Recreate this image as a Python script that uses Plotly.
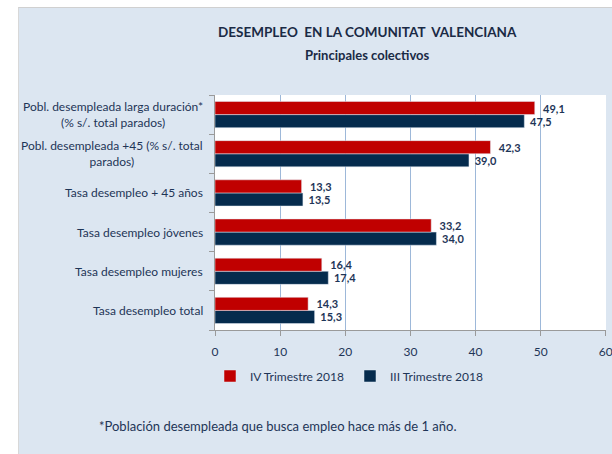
import plotly.graph_objects as go

categories = [
    "Tasa desempleo total",
    "Tasa desempleo mujeres",
    "Tasa desempleo jóvenes",
    "Tasa desempleo + 45 años",
    "Pobl. desempleada +45 (% s/. total<br>parados)",
    "Pobl. desempleada larga duración*<br>(% s/. total parados)",
]
iv_2018 = [14.3, 16.4, 33.2, 13.3, 42.3, 49.1]
iii_2018 = [15.3, 17.4, 34.0, 13.5, 39.0, 47.5]
x_ticks = [0, 10, 20, 30, 40, 50, 60]

RED = "#c00000"
NAVY = "#052b4d"
TXT = "#1e3557"
FONT = "Lato"

W, H = 612, 454
L, R, T, B = 215, 6, 95, 124
pw, ph = W - L - R, H - T - B


def px2x(px):
    return (px - L) / pw


def py2y(py):
    return (H - B - py) / ph


def fmt(v):
    return f"{v:.1f}".replace(".", ",")


fig = go.Figure()
fig.add_trace(go.Bar(
    y=categories, x=iii_2018, orientation="h", name="III Trimestre 2018",
    marker=dict(color=NAVY), text=[" " + fmt(v) for v in iii_2018],
    textposition="outside", cliponaxis=False,
    textfont=dict(family=FONT, size=11, color=TXT, weight="bold"),
    legendrank=2,
))
fig.add_trace(go.Bar(
    y=categories, x=iv_2018, orientation="h", name="IV Trimestre 2018",
    marker=dict(color=RED), text=["  " + fmt(v) for v in iv_2018],
    textposition="outside", cliponaxis=False,
    textfont=dict(family=FONT, size=11, color=TXT, weight="bold"),
    legendrank=1,
))

annotations = [
    dict(text="<b>DESEMPLEO  EN LA COMUNITAT  VALENCIANA</b>", x=px2x(367), y=py2y(32),
         xref="paper", yref="paper", showarrow=False, xanchor="center", yanchor="middle",
         font=dict(family=FONT, size=13.5, color="#1a2a45")),
    dict(text="<b>Principales colectivos</b>", x=px2x(367), y=py2y(55),
         xref="paper", yref="paper", showarrow=False, xanchor="center", yanchor="middle",
         font=dict(family=FONT, size=13, color="#1a2a45")),
    dict(text="*Población desempleada que busca empleo hace más de 1 año.", x=px2x(97), y=py2y(426),
         xref="paper", yref="paper", showarrow=False, xanchor="left", yanchor="middle",
         font=dict(family=FONT, size=13, color=TXT)),
]
for c in categories:
    annotations.append(dict(
        text=c, x=px2x(205), y=c, xref="paper", yref="y", showarrow=False,
        xanchor="right", yanchor="middle", align="center",
        font=dict(family=FONT, size=12, color=TXT),
    ))

shapes = [
    dict(type="rect", xref="paper", yref="paper", x0=px2x(-5), x1=px2x(18), y0=py2y(460), y1=py2y(-5),
         fillcolor="white", line=dict(width=0), layer="below"),
    dict(type="rect", xref="paper", yref="paper", x0=px2x(-5), x1=px2x(620), y0=py2y(7), y1=py2y(-5),
         fillcolor="white", line=dict(width=0), layer="below"),
    dict(type="line", xref="paper", yref="paper", x0=px2x(18), x1=px2x(620), y0=py2y(7.5), y1=py2y(7.5),
         line=dict(color="#d0d0d0", width=1), layer="below"),
    dict(type="line", xref="paper", yref="paper", x0=px2x(18.5), x1=px2x(18.5), y0=py2y(460), y1=py2y(7.5),
         line=dict(color="#d8d8d8", width=1), layer="below"),
]

fig.update_layout(
    width=W, height=H, autosize=False,
    margin=dict(l=L, r=R, t=T, b=B, pad=0, autoexpand=False),
    paper_bgcolor="#dce6f1", plot_bgcolor="white",
    barmode="group", bargap=0.33, bargroupgap=0,
    showlegend=True,
    legend=dict(orientation="h", x=px2x(210), xanchor="left", y=py2y(376), yanchor="middle",
                font=dict(family=FONT, size=12, color=TXT), bgcolor="rgba(0,0,0,0)",
                traceorder="normal", itemwidth=30, entrywidth=95),
    annotations=annotations, shapes=shapes,
    font=dict(family=FONT, color=TXT),
)
fig.update_xaxes(
    range=[0, 60.04], tickvals=x_ticks, showgrid=True, gridcolor="#9db8d9", gridwidth=1,
    showline=True, linecolor="#9a9a9a", linewidth=1, ticks="outside", ticklen=5,
    tickcolor="#9a9a9a", tickfont=dict(family=FONT, size=12, color=TXT),
    ticklabelstandoff=6, ticklabeloverflow="allow", zeroline=False, fixedrange=True,
    automargin=False,
)
fig.update_yaxes(
    categoryorder="array", categoryarray=categories, showticklabels=False,
    showline=True, linecolor="#9a9a9a", linewidth=1, ticks="outside", ticklen=5,
    tickcolor="#9a9a9a", tickson="boundaries", showgrid=False, zeroline=False, fixedrange=True,
    automargin=False,
)

fig.write_html("out.html", config={"displayModeBar": False},
               post_script="document.body.style.margin='0';document.body.style.overflow='hidden';")
